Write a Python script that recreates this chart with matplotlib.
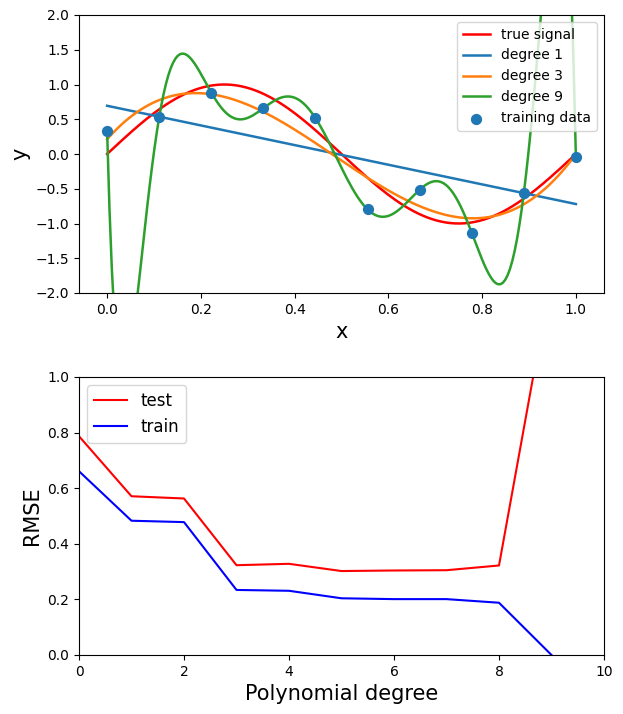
import numpy as np
import matplotlib
matplotlib.use('Agg')
import matplotlib.pyplot as plt

# training samples
x_train = np.linspace(0, 1, 10)
y_train = [0.33, 0.53, 0.884, 0.659, 0.516, -0.797, -0.514, -1.132, -0.567, -0.04]

fit_degrees = [1, 3, 9]
fit_colors = ['C0', 'C1', 'C2']

# RMSE per polynomial degree
degrees = [0, 1, 2, 3, 4, 5, 6, 7, 8, 9]
rmse_test = [0.787, 0.571, 0.563, 0.323, 0.328, 0.302, 0.304, 0.305, 0.322, 1.365]
rmse_train = [0.661, 0.483, 0.478, 0.234, 0.231, 0.204, 0.201, 0.201, 0.188, 0.0]

fig = plt.figure(figsize=(6.23, 7.14), dpi=100)

#--------------- top: fits ---------------#
ax1 = fig.add_axes([79/623, 1-293/714, 525/623, 278/714])
xx = np.linspace(0, 1, 200)
ax1.plot(xx, np.sin(2*np.pi*xx), 'r', lw=1.8, label='true signal')
for d, c in zip(fit_degrees, fit_colors):
    p = np.polyfit(x_train, y_train, d)
    ax1.plot(xx, np.polyval(p, xx), color=c, lw=1.8, label='degree %d' % d)
ax1.scatter(x_train, y_train, s=50, color='C0', zorder=5, label='training data')
ax1.set_xlim(-0.06, 1.06)
ax1.set_ylim(-2, 2)
ax1.set_xlabel('x', fontsize=15)
ax1.set_ylabel('y', fontsize=15)
ax1.legend(loc='upper right', fontsize=10)

#--------------- bottom: RMSE ---------------#
ax2 = fig.add_axes([79/623, 1-655/714, 525/623, 278/714])
ax2.plot(degrees, rmse_test, 'r', lw=1.5, label='test')
ax2.plot(degrees, rmse_train, 'b', lw=1.5, label='train')
ax2.set_xlim(0, 10)
ax2.set_ylim(0, 1)
ax2.set_xlabel('Polynomial degree', fontsize=15)
ax2.set_ylabel('RMSE', fontsize=15)
ax2.legend(loc='upper left', fontsize=12)

fig.savefig('out.png', dpi=100)
